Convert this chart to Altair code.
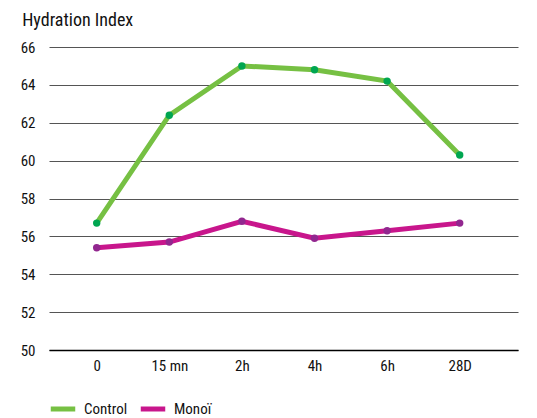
import altair as alt
import pandas as pd

times = ["0", "15 mn", "2h", "4h", "6h", "28D"]
control = [56.7, 62.4, 65.0, 64.8, 64.2, 60.3]
monoi = [55.4, 55.7, 56.8, 55.9, 56.3, 56.7]
series = ["Control", "Monoï"]
line_colors = ["#76c043", "#c8168c"]
point_colors = ["#00a651", "#92278f"]
y_ticks = [50, 52, 54, 56, 58, 60, 62, 64, 66]

rows = []
for t, v in zip(times, control):
    rows.append({"time": t, "value": v, "series": "Control"})
for t, v in zip(times, monoi):
    rows.append({"time": t, "value": v, "series": "Monoï"})
df = pd.DataFrame(rows)

FONT = "Roboto Condensed, Roboto, Liberation Sans"

x = alt.X("time:N", sort=times, title=None,
          scale=alt.Scale(type="point", padding=0.73, align=0.45),
          axis=alt.Axis(labelAngle=0, tickSize=0, labelPadding=8, domain=True,
                        domainColor="#000000", domainWidth=1.5, grid=False,
                        labelFontSize=15, labelColor="#111111", labelFont=FONT))
y = alt.Y("value:Q", title=None,
          scale=alt.Scale(domain=[50, 66], nice=False, zero=False),
          axis=alt.Axis(values=y_ticks, tickSize=0, labelPadding=14, domain=False,
                        gridColor="#555555", gridWidth=1.2, labelFontSize=15,
                        labelColor="#111111", labelFont=FONT))

lines = alt.Chart(df).mark_line(strokeWidth=5).encode(
    x=x, y=y,
    color=alt.Color("series:N", sort=series,
                    scale=alt.Scale(domain=series, range=line_colors),
                    legend=alt.Legend(title=None, orient="none", direction="horizontal",
                                      legendX=-1, legendY=347, symbolType="stroke",
                                      symbolSize=600, symbolStrokeWidth=5,
                                      labelFontSize=15, labelFont=FONT,
                                      labelColor="#111111", columnPadding=2,
                                      labelOffset=6)),
    detail="series:N",
)

points = alt.Chart(df).mark_point(filled=True, size=55, opacity=1).encode(
    x=x, y=y,
    color=alt.Color("series:N", sort=series,
                    scale=alt.Scale(domain=series, range=point_colors),
                    legend=None),
)

chart = alt.layer(lines, points).resolve_scale(color="independent").properties(
    width=469, height=303,
    autosize=alt.AutoSizeParams(type="none"),
    padding={"left": 41, "top": 39, "right": 11, "bottom": 68},
    title=alt.Title("Hydration Index", anchor="start", dx=2, fontSize=18,
                    fontWeight="normal", font=FONT, color="#111111", offset=10),
).configure(background="white").configure_view(stroke=None)

chart.save("out.html", embed_options={"renderer": "svg", "actions": False})
